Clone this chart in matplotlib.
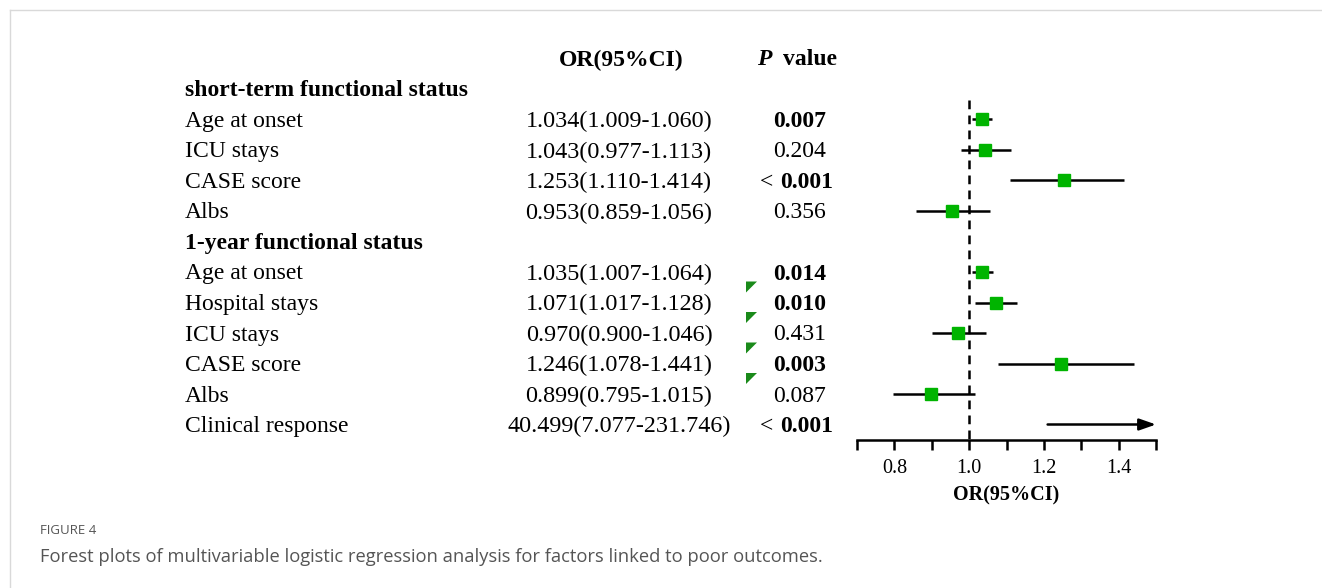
import matplotlib
matplotlib.use("Agg")
import matplotlib.pyplot as plt
import matplotlib.transforms as mtransforms
from matplotlib.patches import Polygon
from matplotlib.lines import Line2D

# ---------------- data ----------------
row_labels = ["short-term functional status", "Age at onset", "ICU stays", "CASE score", "Albs",
              "1-year functional status", "Age at onset", "Hospital stays", "ICU stays", "CASE score",
              "Albs", "Clinical response"]
is_header = [True, False, False, False, False, True, False, False, False, False, False, False]
or_est = [None, 1.034, 1.043, 1.253, 0.953, None, 1.035, 1.071, 0.970, 1.246, 0.899, 40.499]
ci_low = [None, 1.009, 0.977, 1.110, 0.859, None, 1.007, 1.017, 0.900, 1.078, 0.795, 7.077]
ci_high = [None, 1.060, 1.113, 1.414, 1.056, None, 1.064, 1.128, 1.046, 1.441, 1.015, 231.746]
or_text = ["", "1.034(1.009-1.060)", "1.043(0.977-1.113)", "1.253(1.110-1.414)", "0.953(0.859-1.056)",
           "", "1.035(1.007-1.064)", "1.071(1.017-1.128)", "0.970(0.900-1.046)", "1.246(1.078-1.441)",
           "0.899(0.795-1.015)", "40.499(7.077-231.746)"]
p_text = ["", "0.007", "0.204", "< 0.001", "0.356", "", "0.014", "0.010", "0.431", "0.003", "0.087", "< 0.001"]
p_bold = [False, True, False, True, False, False, True, True, False, True, False, True]
flag_rows = [7, 8, 9, 10]
x_ticks = [0.7, 0.8, 0.9, 1.0, 1.1, 1.2, 1.3, 1.4, 1.5]
x_ticklabels = ["", "0.8", "", "1.0", "", "1.2", "", "1.4", ""]

# ---------------- style ----------------
W, H = 1322, 588
SERIF = ["Liberation Serif", "DejaVu Serif"]
GREEN = "#00B400"
FS = 17
arrow_start = 1.21

fig = plt.figure(figsize=(W / 100, H / 100), dpi=100)
fig.patch.set_facecolor("white")

row0_px, row_step = 89, 30.5
axis_px, top_px = 440, 60
ymax_r = (axis_px - row0_px) / row_step
ymin_r = (top_px - row0_px) / row_step
ax = fig.add_axes([857 / W, (H - axis_px) / H, (1156 - 857) / W, (axis_px - top_px) / H])
ax.set_xlim(0.7, 1.5)
ax.set_ylim(ymax_r, ymin_r)
for s in ["top", "right", "left"]:
    ax.spines[s].set_visible(False)
ax.spines["bottom"].set_linewidth(1.8)
ax.set_yticks([])
ax.set_xticks(x_ticks)
ax.set_xticklabels(x_ticklabels, fontfamily=SERIF, fontsize=14.5)
ax.tick_params(axis="x", length=7, width=1.8, direction="out", pad=7)
ax.set_xlabel("OR(95%CI)", fontfamily=SERIF, fontsize=14.5, fontweight="bold", labelpad=5)
ax.patch.set_alpha(0)

# reference line
ax.vlines(1.0, 0.35, ymax_r, colors="black", linestyles=(0, (3.5, 2.5)), linewidth=1.8)

# CIs and points
for i in range(len(row_labels)):
    if or_est[i] is None:
        continue
    if or_est[i] > 1.5:
        ax.annotate("", xy=(1.5, i), xytext=(arrow_start, i),
                    arrowprops=dict(arrowstyle="-|>,head_length=1.0,head_width=0.35",
                                    color="black", lw=1.8, shrinkA=0, shrinkB=0),
                    annotation_clip=False)
    else:
        ax.hlines(i, ci_low[i], ci_high[i], colors="black", linewidth=1.8)
        ax.plot(or_est[i], i, marker="s", markersize=8.5, color=GREEN, zorder=3)

# text columns
tr = mtransforms.blended_transform_factory(fig.transFigure, ax.transData) + \
    mtransforms.ScaledTranslation(0, -2 / 100, fig.dpi_scale_trans)
for i, lab in enumerate(row_labels):
    ax.text(185 / W, i, lab, transform=tr, ha="left", va="center", fontsize=FS,
            fontfamily=SERIF, fontweight="bold" if is_header[i] else "normal", clip_on=False)
    if or_text[i]:
        ax.text(619 / W, i, or_text[i], transform=tr, ha="center", va="center", fontsize=17.4,
                fontfamily=SERIF, clip_on=False)
    if p_text[i]:
        if p_text[i].startswith("<"):
            ax.text(773 / W, i, "<", transform=tr, ha="right", va="center", fontsize=FS,
                    fontfamily=SERIF, clip_on=False)
            ax.text(780 / W, i, p_text[i][2:], transform=tr, ha="left", va="center", fontsize=FS,
                    fontfamily=SERIF, fontweight="bold", clip_on=False)
        else:
            ax.text(800 / W, i, p_text[i], transform=tr, ha="center", va="center", fontsize=FS,
                    fontfamily=SERIF, fontweight="bold" if p_bold[i] else "normal", clip_on=False)

# headers
hdr_r = (58 - row0_px) / row_step
ax.text(621 / W, hdr_r, "OR(95%CI)", transform=tr, ha="center", va="center", fontsize=FS,
        fontfamily=SERIF, fontweight="bold", clip_on=False)
ax.text(771 / W, hdr_r, "P", transform=tr, ha="right", va="center", fontsize=FS,
        fontfamily=SERIF, fontweight="bold", fontstyle="italic", clip_on=False)
ax.text(783 / W, hdr_r, "value", transform=tr, ha="left", va="center", fontsize=FS,
        fontfamily=SERIF, fontweight="bold", clip_on=False)

# small green flags
for r in flag_rows:
    yc = row0_px + row_step * r - 16
    tri = Polygon([(746 / W, 1 - (yc - 5) / H), (757 / W, 1 - (yc - 5) / H), (746 / W, 1 - (yc + 6) / H)],
                  closed=True, transform=fig.transFigure, facecolor="#1a8a1a", edgecolor="none")
    fig.patches.append(tri)

# frame lines
fig.add_artist(Line2D([10 / W, 1], [1 - 10 / H, 1 - 10 / H], transform=fig.transFigure, color="#d9d9d9", lw=1))
fig.add_artist(Line2D([10 / W, 10 / W], [0, 1 - 10 / H], transform=fig.transFigure, color="#d9d9d9", lw=1))

# caption
fig.text(40 / W, 1 - 531 / H, "FIGURE 4", fontsize=9.5, color="#555555", family="Open Sans",
         ha="left", va="center")
fig.text(40 / W, 1 - 557 / H,
         "Forest plots of multivariable logistic regression analysis for factors linked to poor outcomes.",
         fontsize=13.2, color="#555555", family="Open Sans", ha="left", va="center")

fig.savefig("out.png", dpi=100, facecolor="white")
